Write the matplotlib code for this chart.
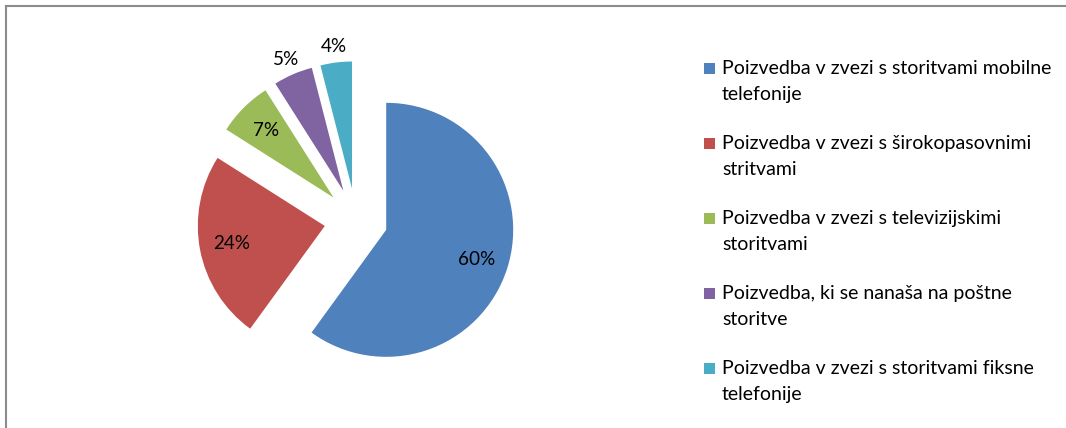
import numpy as np
import matplotlib.pyplot as plt
from matplotlib.patches import Rectangle
from matplotlib.lines import Line2D

plt.rcParams['font.family'] = ['Lato', 'DejaVu Sans']

# data
labels = ['Poizvedba v zvezi s storitvami mobilne\ntelefonije',
          'Poizvedba v zvezi s širokopasovnimi\nstritvami',
          'Poizvedba v zvezi s televizijskimi\nstoritvami',
          'Poizvedba, ki se nanaša na poštne\nstoritve',
          'Poizvedba v zvezi s storitvami fiksne\ntelefonije']
shares = [60, 24, 7, 5, 4]
colors = ['#4F81BD', '#C0504D', '#9BBB59', '#8064A2', '#4BACC6']

W, H = 1066, 428
FS = 13.6
fig = plt.figure(figsize=(W / 100, H / 100), dpi=100)
ax = fig.add_axes([0, 0, 1, 1])

R = 127
cx, cy = 356, H - 220
wedges, texts, autotexts = ax.pie(
    shares, explode=[0.25 * R] * len(shares), colors=colors, startangle=90,
    counterclock=False, radius=R, center=(cx, cy), autopct='%1.0f%%',
    pctdistance=0.75, textprops={'fontsize': FS, 'color': 'black'},
    wedgeprops={'linewidth': 0}, frame=True)
ax.set_xlim(0, W)
ax.set_ylim(0, H)
ax.set_aspect('equal')
ax.axis('off')

# small slices: labels outside
for w, t in zip(wedges[3:], autotexts[3:]):
    ang = np.deg2rad((w.theta1 + w.theta2) / 2)
    x0, y0 = w.center
    t.set_position((x0 + 1.13 * R * np.cos(ang), y0 + 1.13 * R * np.sin(ang)))

# legend drawn by hand
for i, (lab, col) in enumerate(zip(labels, colors)):
    yc = H - 68.5 - i * 75.1
    ax.add_patch(Rectangle((704, yc - 5.5), 11, 11, color=col, lw=0))
    for j, line in enumerate(lab.split('\n')):
        ax.text(722, yc - j * 25.5, line, fontsize=14, va='center', ha='left')

# frame (top and left only visible)
fig.add_artist(Line2D([6 / W, 1], [1 - 6 / H, 1 - 6 / H], color='#8c8c8c', lw=1.5))
fig.add_artist(Line2D([6 / W, 6 / W], [0, 1 - 6 / H], color='#8c8c8c', lw=1.5))

fig.savefig('out.png', dpi=100)
